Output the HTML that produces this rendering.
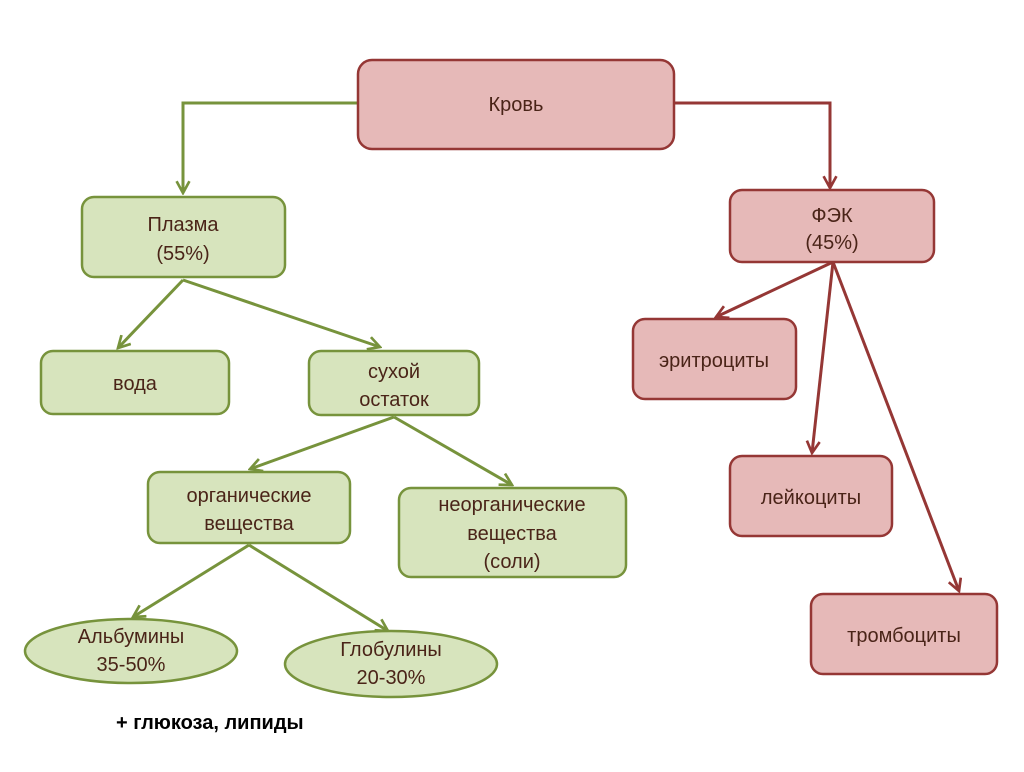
<!DOCTYPE html>
<html><head><meta charset="utf-8"><style>
body{margin:0;background:#fff}
svg text{font-family:"Liberation Sans",sans-serif;font-size:20px;fill:#4a2418;text-anchor:middle}
</style></head><body>
<svg width="1024" height="767" viewBox="0 0 1024 767" xmlns="http://www.w3.org/2000/svg">
<defs>
<marker id="ag" viewBox="0 0 14 14" refX="12" refY="7" markerWidth="15" markerHeight="15" markerUnits="userSpaceOnUse" orient="auto"><path d="M1,1 L12,7 L1,13" fill="none" stroke="#77933c" stroke-width="2.5"/></marker>
<marker id="ar" viewBox="0 0 14 14" refX="12" refY="7" markerWidth="15" markerHeight="15" markerUnits="userSpaceOnUse" orient="auto"><path d="M1,1 L12,7 L1,13" fill="none" stroke="#953735" stroke-width="2.5"/></marker>
</defs>
<g fill="none" stroke-width="3">
<path d="M358,103 H183 V193" stroke="#77933c" marker-end="url(#ag)"/>
<path d="M674,103 H830 V188" stroke="#953735" marker-end="url(#ar)"/>
<g stroke="#953735" marker-end="url(#ar)">
<line x1="833" y1="262" x2="716" y2="317"/>
<line x1="833" y1="262" x2="812" y2="453"/>
<line x1="833" y1="262" x2="959" y2="591"/>
</g>
<g stroke="#77933c" marker-end="url(#ag)">
<line x1="183" y1="280" x2="118" y2="348"/>
<line x1="183" y1="280" x2="380" y2="347"/>
<line x1="394" y1="417" x2="250" y2="469"/>
<line x1="394" y1="417" x2="512" y2="485"/>
<line x1="249" y1="545" x2="133" y2="617"/>
<line x1="249" y1="545" x2="388" y2="631"/>
</g>
</g>
<g stroke-width="2.5">
<rect x="358" y="60" width="316" height="89" rx="14" fill="#e6b9b8" stroke="#953735"/>
<rect x="730" y="190" width="204" height="72" rx="12" fill="#e6b9b8" stroke="#953735"/>
<rect x="633" y="319" width="163" height="80" rx="12" fill="#e6b9b8" stroke="#953735"/>
<rect x="730" y="456" width="162" height="80" rx="12" fill="#e6b9b8" stroke="#953735"/>
<rect x="811" y="594" width="186" height="80" rx="12" fill="#e6b9b8" stroke="#953735"/>
<rect x="82" y="197" width="203" height="80" rx="12" fill="#d7e4bd" stroke="#77933c"/>
<rect x="41" y="351" width="188" height="63" rx="12" fill="#d7e4bd" stroke="#77933c"/>
<rect x="309" y="351" width="170" height="64" rx="12" fill="#d7e4bd" stroke="#77933c"/>
<rect x="148" y="472" width="202" height="71" rx="12" fill="#d7e4bd" stroke="#77933c"/>
<rect x="399" y="488" width="227" height="89" rx="12" fill="#d7e4bd" stroke="#77933c"/>
<ellipse cx="131" cy="651" rx="106" ry="32" fill="#d7e4bd" stroke="#77933c"/>
<ellipse cx="391" cy="664" rx="106" ry="33" fill="#d7e4bd" stroke="#77933c"/>
</g>
<text x="516" y="111">Кровь</text>
<text x="832" y="222">ФЭК</text><text x="832" y="249">(45%)</text>
<text x="714" y="367">эритроциты</text>
<text x="811" y="504">лейкоциты</text>
<text x="904" y="642">тромбоциты</text>
<text x="183" y="231">Плазма</text><text x="183" y="260">(55%)</text>
<text x="135" y="390">вода</text>
<text x="394" y="378">сухой</text><text x="394" y="406">остаток</text>
<text x="249" y="502">органические</text><text x="249" y="530">вещества</text>
<text x="512" y="511">неорганические</text><text x="512" y="540">вещества</text><text x="512" y="568">(соли)</text>
<text x="131" y="643">Альбумины</text><text x="131" y="671">35-50%</text>
<text x="391" y="656">Глобулины</text><text x="391" y="684">20-30%</text>
<text x="116" y="729" style="text-anchor:start;font-weight:bold;fill:#000;font-size:20px">+ глюкоза,  липиды</text>
</svg>
</body></html>
